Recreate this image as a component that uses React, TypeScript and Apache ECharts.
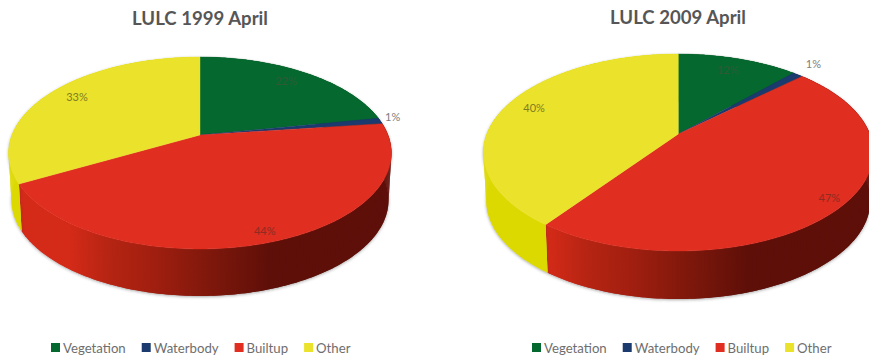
import React, { useEffect, useRef } from "react";
import * as echarts from "echarts";

const categories = ["Vegetation", "Waterbody", "Builtup", "Other"];
const shares1999 = [22, 1, 44, 33];
const shares2009 = [12, 1, 47, 40];
const titles = ["LULC 1999 April", "LULC 2009 April"];

const topColors = ["#05692f", "#1b3a6e", "#e02e20", "#ebe22c"];
const labelColors = ["#2f5a35", "#7d7d7d", "#8e2c22", "#7f7c22"];
// Distance of each percentage label from the centre, as a share of the radius.
const labelReach = [
  [0.8, 1.07, 0.93, 0.82],
  [0.8, 1.15, 0.93, 0.83],
];
const FONT = "Lato, 'Open Sans', sans-serif";

// Disc geometry for the two pies: a perspective view of a circle around an apex.
const discs = [
  { cx: 200, cy: 135, a: 188, b: 92.6, k: 0.1875, depth: 47 },
  { cx: 678.3, cy: 134, a: 191.5, b: 95, k: 0.188, depth: 48 },
];

type Disc = (typeof discs)[number];

function project(d: Disc, theta: number, r: number, lower = false): number[] {
  const X = r * Math.sin(theta);
  const Y = r * Math.cos(theta);
  const w = 1 + d.k * Y;
  const spread = lower ? 0.985 : 1;
  return [d.cx + (spread * d.a * X) / w, d.cy + (lower ? d.depth : 0) - (d.b * Y) / w];
}

function sideFill(d: Disc, index: number) {
  if (index === 3) return "#dcd900";
  if (index === 0) return "#03501f";
  if (index === 1) return "#12264a";
  // The rim of the builtup slice darkens towards the right.
  return new echarts.graphic.LinearGradient(
    d.cx - 130,
    0,
    d.cx + 70,
    0,
    [
      { offset: 0, color: "#d42a18" },
      { offset: 0.2, color: "#b52412" },
      { offset: 0.4, color: "#a31f10" },
      { offset: 0.65, color: "#84190c" },
      { offset: 1, color: "#5e0f08" },
    ],
    true
  );
}

function sliceSeries(shares: number[], pieIndex: number) {
  const disc = discs[pieIndex];
  const total = shares.reduce((s, v) => s + v, 0);
  return categories.map((name, i) => {
    const before = shares.slice(0, i).reduce((s, v) => s + v, 0);
    return {
      type: "custom",
      name,
      coordinateSystem: "none",
      itemStyle: { color: topColors[i] },
      silent: true,
      data: [[shares[i]]],
      renderItem: (_params: unknown, api: any) => {
        const start = (before / total) * Math.PI * 2;
        const end = start + (api.value(0) / total) * Math.PI * 2;
        const steps = Math.max(3, Math.ceil((end - start) / (Math.PI / 180)));
        const upper: number[][] = [];
        const lower: number[][] = [];
        for (let s = 0; s <= steps; s++) {
          const t = start + ((end - start) * s) / steps;
          upper.push(project(disc, t, 1));
          lower.push(project(disc, t, 1, true));
        }
        const fill = sideFill(disc, i);
        // Quads between the two rims fill the silhouette where the rims cross at the disc's sides.
        const sideQuads = upper.slice(0, -1).map((p, s) => ({
          type: "polygon",
          z2: 1,
          shape: { points: [p, upper[s + 1], lower[s + 1], lower[s]] },
          style: { fill },
        }));
        const mid = (start + end) / 2;
        const [lx, ly] = project(disc, mid, labelReach[pieIndex][i]);
        return {
          type: "group",
          children: [
            {
              type: "polygon",
              z2: 1,
              shape: { points: [...upper, ...lower.slice().reverse()] },
              style: {
                fill,
                shadowColor: "rgba(60,60,60,0.45)",
                shadowBlur: 3,
                shadowOffsetY: 1,
              },
            },
            ...sideQuads,
            {
              type: "polygon",
              z2: 2,
              shape: { points: [[disc.cx, disc.cy], ...upper] },
              style: { fill: topColors[i], stroke: topColors[i], lineWidth: 0.4 },
            },
            {
              type: "text",
              z2: 3,
              style: {
                text: `${api.value(0)}%`,
                x: lx,
                y: ly - 3,
                fill: labelColors[i],
                font: `11px ${FONT}`,
                align: "center",
                verticalAlign: "middle",
              },
            },
          ],
        };
      },
    };
  });
}

function legendAt(left: number) {
  return {
    left,
    top: 341,
    padding: 0,
    itemWidth: 9,
    itemHeight: 9,
    itemGap: 16,
    icon: "rect",
    selectedMode: false,
    data: categories,
    textStyle: { color: "#6e6e6e", fontFamily: FONT, fontSize: 13.2, padding: [0, 0, 0, -2] },
  };
}

export default function App() {
  const host = useRef<HTMLDivElement>(null);

  useEffect(() => {
    const chart = echarts.init(host.current!, null, { renderer: "svg" });
    chart.setOption({
      animation: false,
      backgroundColor: "#ffffff",
      title: [
        { text: titles[0], left: 200, top: 8, textAlign: "center", padding: 0 },
        { text: titles[1], left: 678, top: 7, textAlign: "center", padding: 0 },
      ].map((t) => ({
        ...t,
        textStyle: { color: "#565656", fontFamily: FONT, fontSize: 18.6, fontWeight: "bold" },
      })),
      legend: [legendAt(51), legendAt(532)],
      series: [...sliceSeries(shares1999, 0), ...sliceSeries(shares2009, 1)],
    });
    return () => chart.dispose();
  }, []);

  return <div ref={host} style={{ position: "absolute", left: 0, top: 0, width: 869, height: 359 }} />;
}
